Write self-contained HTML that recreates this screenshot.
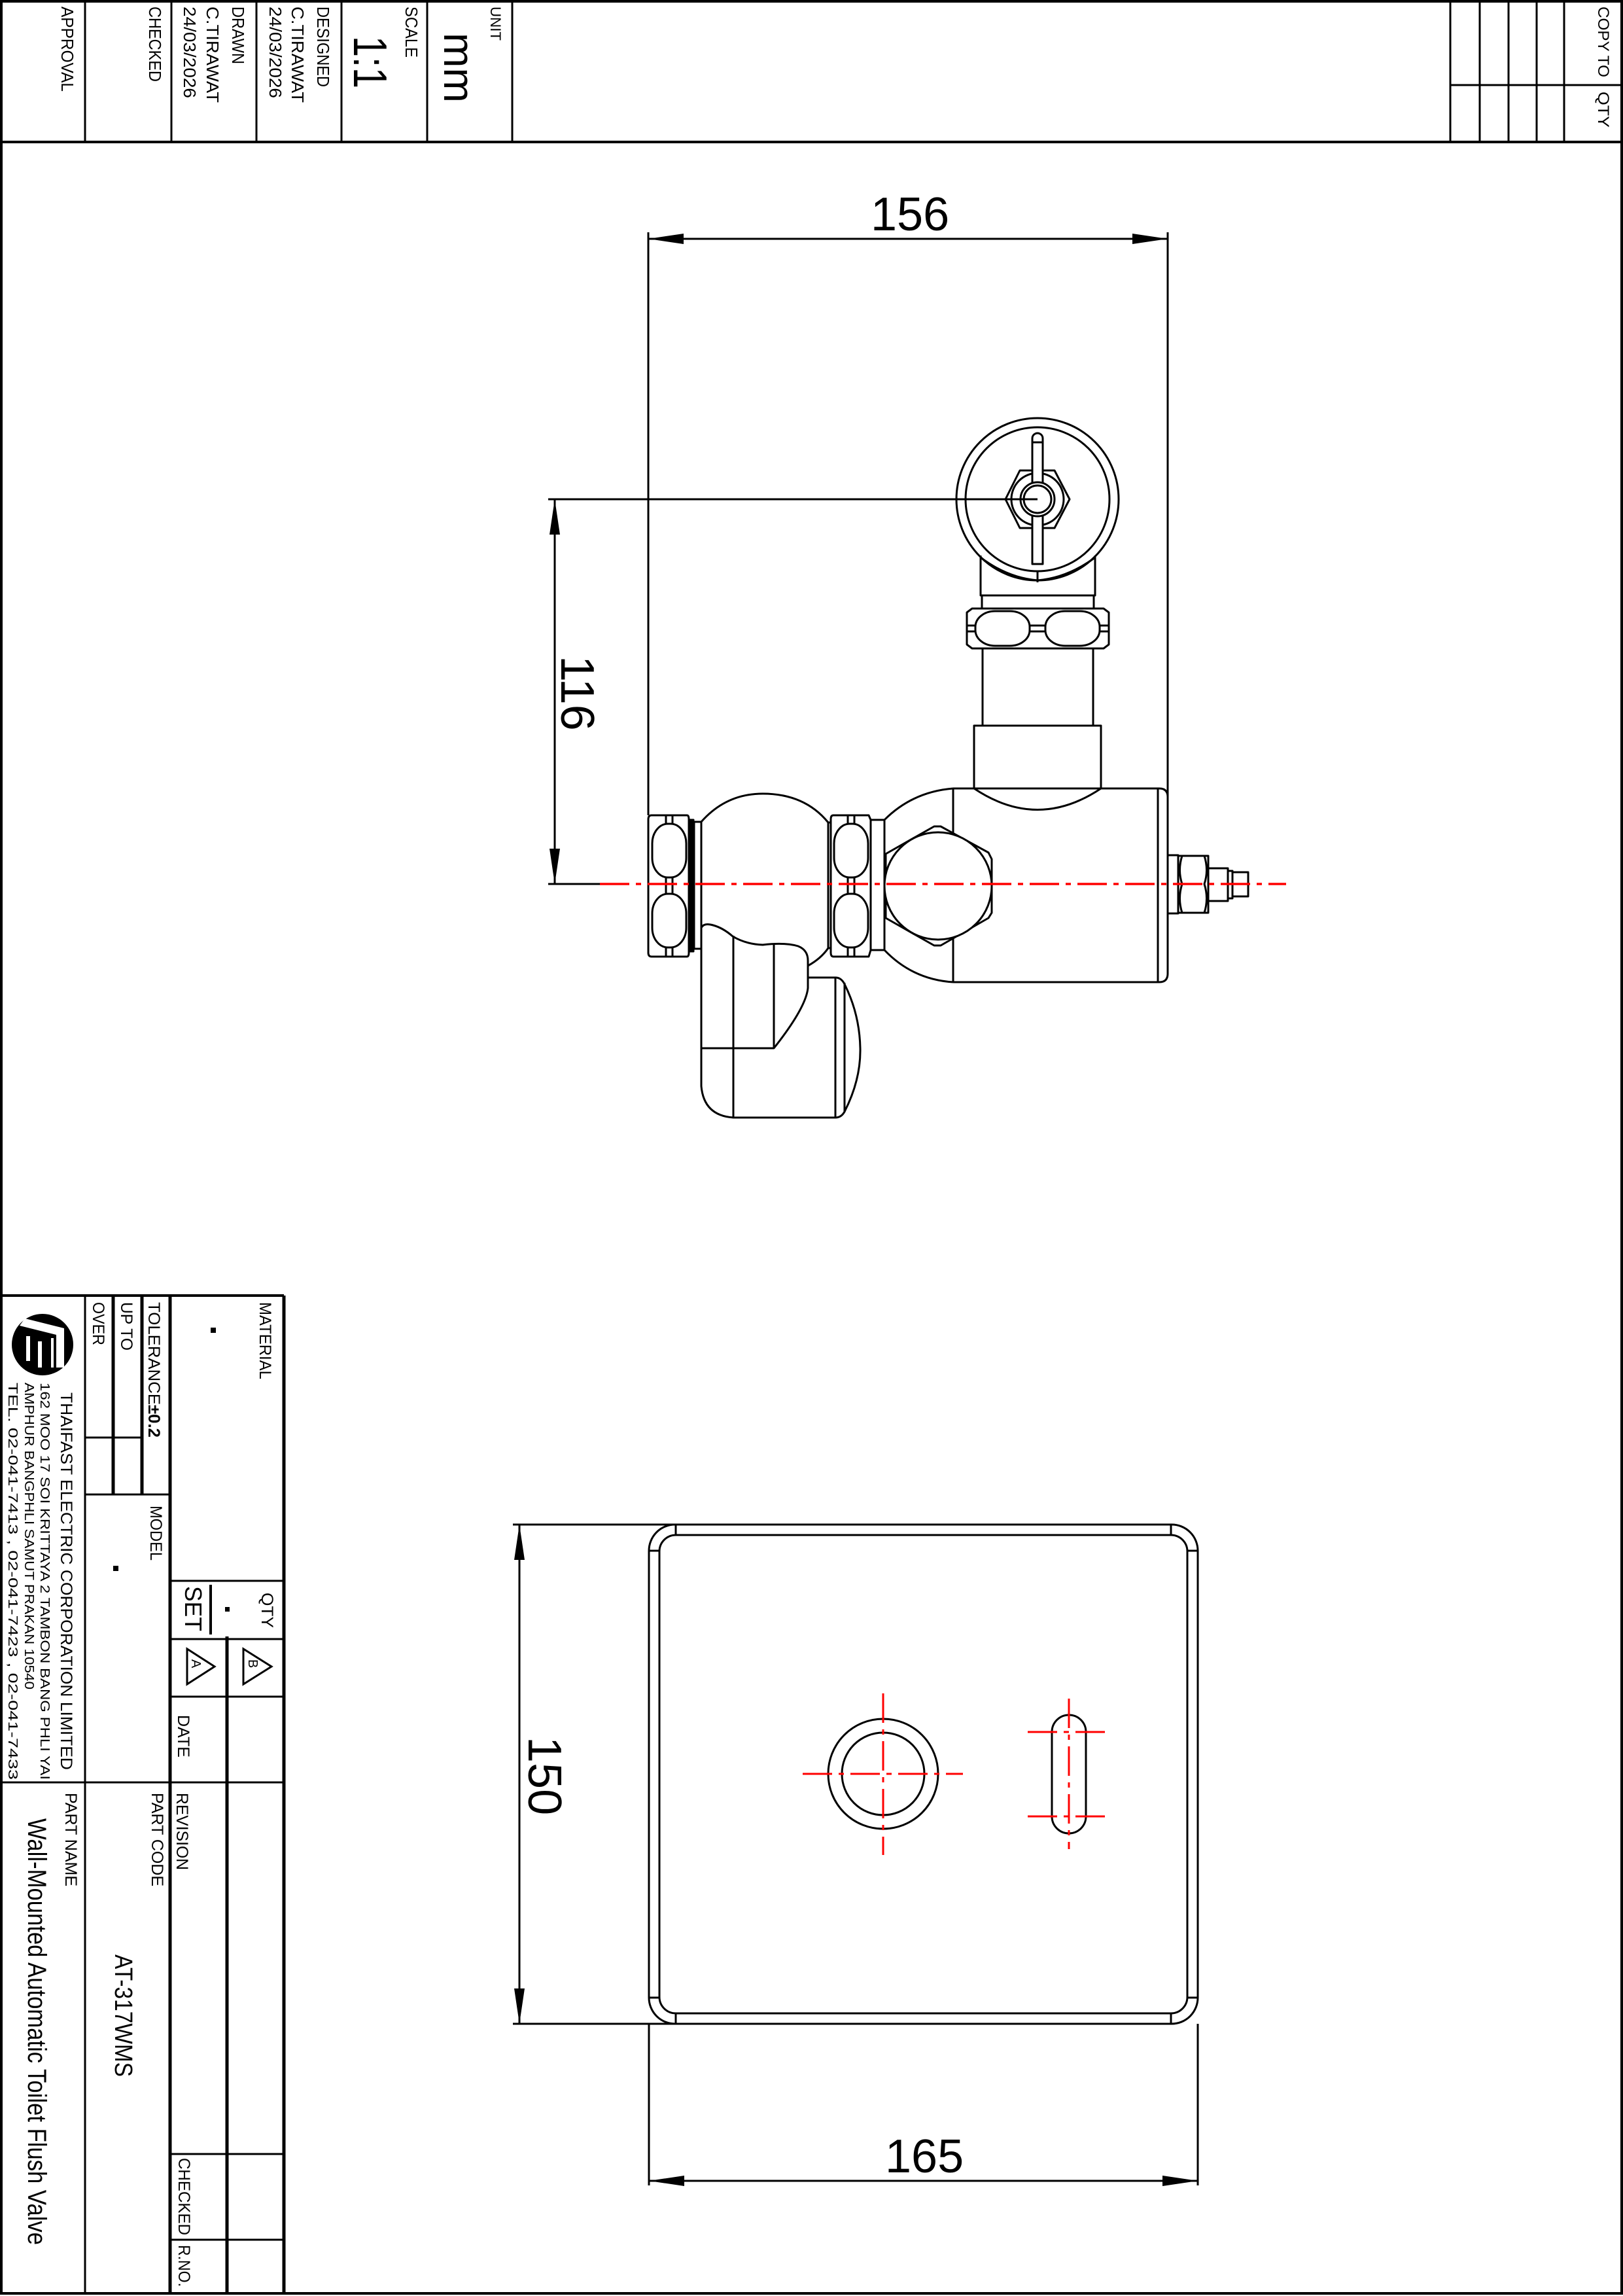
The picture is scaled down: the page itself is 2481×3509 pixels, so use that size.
<!DOCTYPE html>
<html><head><meta charset="utf-8"><style>
html,body{margin:0;padding:0;background:#fff;}
svg{display:block;}
text{font-family:"Liberation Sans",sans-serif;fill:#000;}
</style></head><body>
<svg width="2481" height="3509" viewBox="0 0 2481 3509" xmlns="http://www.w3.org/2000/svg">
<rect x="0" y="0" width="2481" height="3509" fill="#fff"/>
<g fill="none" stroke="#000" stroke-width="3">
<rect x="2" y="2" width="2477" height="3503" stroke-width="4"/>
<line x1="0" y1="217" x2="2481" y2="217" stroke-width="4"/>
<line x1="130" y1="0" x2="130" y2="217"/>
<line x1="262" y1="0" x2="262" y2="217"/>
<line x1="392" y1="0" x2="392" y2="217"/>
<line x1="522" y1="0" x2="522" y2="217"/>
<line x1="653" y1="0" x2="653" y2="217"/>
<line x1="783" y1="0" x2="783" y2="217"/>
<line x1="2217" y1="0" x2="2217" y2="217"/>
<line x1="2262" y1="0" x2="2262" y2="217"/>
<line x1="2306" y1="0" x2="2306" y2="217"/>
<line x1="2349" y1="0" x2="2349" y2="217"/>
<line x1="2391" y1="0" x2="2391" y2="217"/>
<line x1="2217" y1="130" x2="2481" y2="130"/>
<line x1="0" y1="1980" x2="434" y2="1980" stroke-width="4"/>
<line x1="434" y1="1980" x2="434" y2="3505" stroke-width="5"/>
<line x1="130" y1="1980" x2="130" y2="3505"/>
<line x1="173" y1="1980" x2="173" y2="2284" stroke-width="5"/>
<line x1="217" y1="1980" x2="217" y2="2284" stroke-width="5"/>
<line x1="260" y1="1980" x2="260" y2="3505" stroke-width="5"/>
<line x1="347" y1="2501" x2="347" y2="3505" stroke-width="5"/>
<line x1="130" y1="2197" x2="217" y2="2197"/>
<line x1="130" y1="2284" x2="260" y2="2284"/>
<line x1="260" y1="2416" x2="434" y2="2416"/>
<line x1="260" y1="2505" x2="434" y2="2505"/>
<line x1="260" y1="2593" x2="434" y2="2593"/>
<line x1="0" y1="2724" x2="434" y2="2724"/>
<line x1="260" y1="3292" x2="434" y2="3292"/>
<line x1="260" y1="3423" x2="434" y2="3423"/>
<line x1="322" y1="2422" x2="322" y2="2498" stroke-width="4"/>
<polygon points="286,2520 286,2574 328,2547"/>
<polygon points="372,2520 372,2574 415,2547"/>
</g>
<g>
<circle cx="65" cy="2055" r="47" fill="#000"/>
<polygon points="38,2015 98,2030 98,2090 86,2090 86,2040 30,2026" fill="#fff"/>
<polygon points="40,2042 46,2042 46,2080 40,2080" fill="#fff"/>
<polygon points="58,2050 64,2050 64,2090 58,2090" fill="#fff"/>
<polygon points="78,2045 82,2045 82,2090 78,2090" fill="#fff"/>
</g>
<rect x="322" y="2029" width="8" height="8"/>
<rect x="344" y="2456" width="7" height="7"/>
<rect x="173" y="2393" width="8" height="8"/>

<g font-size="26">
<text transform="translate(94,10) rotate(90)" textLength="130" lengthAdjust="spacingAndGlyphs">APPROVAL</text>
<text transform="translate(228,10) rotate(90)" textLength="115" lengthAdjust="spacingAndGlyphs">CHECKED</text>
<text transform="translate(355,10) rotate(90)" textLength="88" lengthAdjust="spacingAndGlyphs">DRAWN</text>
<text transform="translate(316,10) rotate(90)" textLength="147" lengthAdjust="spacingAndGlyphs">C.TIRAWAT</text>
<text transform="translate(281,10) rotate(90)" textLength="140" lengthAdjust="spacingAndGlyphs">24/03/2026</text>
<text transform="translate(485,10) rotate(90)" textLength="123" lengthAdjust="spacingAndGlyphs">DESIGNED</text>
<text transform="translate(446,10) rotate(90)" textLength="147" lengthAdjust="spacingAndGlyphs">C.TIRAWAT</text>
<text transform="translate(412,10) rotate(90)" textLength="140" lengthAdjust="spacingAndGlyphs">24/03/2026</text>
<text transform="translate(620,10) rotate(90)" textLength="78" lengthAdjust="spacingAndGlyphs">SCALE</text>
<text transform="translate(750,10) rotate(90)" font-size="22" textLength="52" lengthAdjust="spacingAndGlyphs">UNIT</text>
<text transform="translate(541,55) rotate(90)" font-size="72" textLength="80" lengthAdjust="spacingAndGlyphs">1:1</text>
<text transform="translate(679,50) rotate(90)" font-size="66" textLength="107" lengthAdjust="spacingAndGlyphs">mm</text>
<text transform="translate(2443,10) rotate(90)" font-size="24" textLength="108" lengthAdjust="spacingAndGlyphs">COPY TO</text>
<text transform="translate(2443,140) rotate(90)" font-size="24" textLength="55" lengthAdjust="spacingAndGlyphs">QTY</text>
</g>

<g font-size="25">
<text transform="translate(397,1990) rotate(90)" textLength="118" lengthAdjust="spacingAndGlyphs">MATERIAL</text>
<text transform="translate(400,2434) rotate(90)" textLength="54" lengthAdjust="spacingAndGlyphs">QTY</text>
<text transform="translate(283,2424) rotate(90)" font-size="36" textLength="69" lengthAdjust="spacingAndGlyphs">SET</text>
<text transform="translate(293,2536) rotate(90)" font-size="20">A</text>
<text transform="translate(380,2536) rotate(90)" font-size="20">B</text>
<text transform="translate(272,2621) rotate(90)" textLength="65" lengthAdjust="spacingAndGlyphs">DATE</text>
<text transform="translate(270,2740) rotate(90)" textLength="118" lengthAdjust="spacingAndGlyphs">REVISION</text>
<text transform="translate(273,3298) rotate(90)" textLength="118" lengthAdjust="spacingAndGlyphs">CHECKED</text>
<text transform="translate(273,3431) rotate(90)" textLength="64" lengthAdjust="spacingAndGlyphs">R.NO.</text>
<text transform="translate(227,1990) rotate(90)" textLength="207" lengthAdjust="spacingAndGlyphs">TOLERANCE<tspan font-weight="bold">±0.2</tspan></text>
<text transform="translate(185,1990) rotate(90)" textLength="74" lengthAdjust="spacingAndGlyphs">UP TO</text>
<text transform="translate(142,1990) rotate(90)" textLength="66" lengthAdjust="spacingAndGlyphs">OVER</text>
<text transform="translate(230,2301) rotate(90)" textLength="84" lengthAdjust="spacingAndGlyphs">MODEL</text>
<text transform="translate(93,2128) rotate(90)" textLength="577" lengthAdjust="spacingAndGlyphs">THAIFAST ELECTRIC CORPORATION LIMITED</text>
<text transform="translate(62,2113) rotate(90)" font-size="20" textLength="607" lengthAdjust="spacingAndGlyphs">162  MOO  17  SOI  KRITTAYA  2  TAMBON  BANG  PHLI  YAI</text>
<text transform="translate(38,2113) rotate(90)" font-size="20" textLength="469" lengthAdjust="spacingAndGlyphs">AMPHUR  BANGPHLI  SAMUT  PRAKAN  10540</text>
<text transform="translate(13,2113) rotate(90)" font-size="20" textLength="607" lengthAdjust="spacingAndGlyphs">TEL.  02-041-7413  ,  02-041-7423  ,  02-041-7433</text>
<text transform="translate(100,2740) rotate(90)" textLength="143" lengthAdjust="spacingAndGlyphs">PART NAME</text>
<text transform="translate(232,2740) rotate(90)" textLength="143" lengthAdjust="spacingAndGlyphs">PART CODE</text>
<text transform="translate(176,2987) rotate(90)" font-size="38" textLength="187" lengthAdjust="spacingAndGlyphs">AT-317WMS</text>
<text transform="translate(43,2779) rotate(90)" font-size="40" textLength="652" lengthAdjust="spacingAndGlyphs">Wall-Mounted Automatic Toilet Flush Valve</text>
</g>

<g fill="none" stroke="#000" stroke-width="3" stroke-linejoin="round">
<line x1="991" y1="355" x2="991" y2="1246"/>
<line x1="1785" y1="355" x2="1785" y2="1220"/>
<line x1="991" y1="365" x2="1785" y2="365"/>
<line x1="848" y1="763" x2="848" y2="1351"/>
<line x1="838" y1="763" x2="1586" y2="763"/>
<line x1="838" y1="1351" x2="940" y2="1351"/>

<circle cx="1586" cy="763" r="124"/>
<circle cx="1586" cy="763" r="110"/>
<path d="M1499,849 L1499,910 L1674,910 L1674,849"/>
<path d="M1499,852 Q1540,883 1586,887 Q1632,883 1674,852"/>
<line x1="1586" y1="872" x2="1586" y2="890"/>
<line x1="1501" y1="910" x2="1501" y2="930"/>
<line x1="1672" y1="910" x2="1672" y2="930"/>
<polygon points="1537,763 1559,719 1612,719 1635,763 1612,807 1559,807"/>
<circle cx="1586" cy="763" r="40"/>
<path d="M1578,862 L1578,670 A8,8 0 0 1 1594,670 L1594,862 Z" fill="#fff"/>
<line x1="1578" y1="676" x2="1594" y2="676"/>
<circle cx="1586" cy="763" r="26" fill="#fff"/>
<circle cx="1586" cy="763" r="21"/>
<line x1="1490" y1="763" x2="1586" y2="763"/>

<polygon points="1486,930 1687,930 1695,936 1695,985 1687,991 1486,991 1478,985 1478,936"/>
<rect x="1491" y="934" width="83" height="53" rx="30" ry="24"/>
<rect x="1598" y="934" width="83" height="53" rx="30" ry="24"/>
<line x1="1574" y1="956" x2="1598" y2="956"/><line x1="1574" y1="965" x2="1598" y2="965"/>
<line x1="1478" y1="956" x2="1491" y2="956"/><line x1="1478" y1="965" x2="1491" y2="965"/>
<line x1="1681" y1="956" x2="1695" y2="956"/><line x1="1681" y1="965" x2="1695" y2="965"/>
<line x1="1502" y1="991" x2="1502" y2="1109"/>
<line x1="1671" y1="991" x2="1671" y2="1109"/>
<path d="M1489,1205 L1489,1109 L1683,1109 L1683,1205"/>
<path d="M1489,1205 Q1586,1270 1683,1205"/>

<path d="M1457,1205 L1772,1205 Q1785,1205 1785,1218 L1785,1488 Q1785,1501 1772,1501 L1457,1501"/>
<line x1="1770" y1="1205" x2="1770" y2="1501"/>
<line x1="1457" y1="1205" x2="1457" y2="1501"/>
<path d="M1352,1253 Q1395,1210 1457,1205"/>
<path d="M1352,1452 Q1395,1497 1457,1501"/>
<rect x="1785" y="1307" width="16" height="89"/>
<rect x="1801" y="1308" width="46" height="87"/>
<path d="M1807,1308 Q1800,1330 1807,1351 Q1800,1373 1807,1395"/>
<path d="M1841,1308 Q1848,1330 1841,1351 Q1848,1373 1841,1395"/>
<rect x="1847" y="1327" width="30" height="50"/>
<rect x="1877" y="1331" width="7" height="42"/>
<rect x="1884" y="1333" width="24" height="37"/>
<line x1="1884" y1="1351" x2="1908" y2="1351"/>

<polygon points="1428,1263 1438,1263 1511,1303 1516,1313 1516,1395 1511,1403 1438,1445 1428,1445 1354,1403 1354,1305"/>
<circle cx="1434" cy="1354" r="82" fill="#fff"/>

<path d="M1274,1246 L1328,1246 L1331,1253 L1352,1253 L1352,1452 L1331,1452 L1328,1462 L1274,1462 Q1270,1462 1270,1456 L1270,1252 Q1270,1246 1274,1246 Z"/>
<line x1="1331" y1="1253" x2="1331" y2="1452"/>
<line x1="1296" y1="1246" x2="1296" y2="1259"/><line x1="1306" y1="1246" x2="1306" y2="1259"/>
<line x1="1296" y1="1341" x2="1296" y2="1366"/><line x1="1306" y1="1341" x2="1306" y2="1366"/>
<line x1="1296" y1="1448" x2="1296" y2="1462"/><line x1="1306" y1="1448" x2="1306" y2="1462"/>
<rect x="1275" y="1259" width="52" height="82" rx="24" ry="30"/>
<rect x="1275" y="1366" width="52" height="82" rx="24" ry="30"/>
<rect x="1266" y="1257" width="4" height="192"/>

<path d="M1072,1256 Q1110,1213 1166,1213 Q1230,1213 1266,1257"/>
<path d="M1266,1449 Q1255,1465 1235,1476"/>

<path d="M996,1246 L1050,1246 Q1053,1246 1053,1252 L1053,1456 Q1053,1462 1050,1462 L996,1462 Q991,1462 991,1456 L991,1252 Q991,1246 996,1246 Z"/>
<line x1="1018" y1="1246" x2="1018" y2="1259"/><line x1="1028" y1="1246" x2="1028" y2="1259"/>
<line x1="1018" y1="1341" x2="1018" y2="1366"/><line x1="1028" y1="1341" x2="1028" y2="1366"/>
<line x1="1018" y1="1448" x2="1018" y2="1462"/><line x1="1028" y1="1448" x2="1028" y2="1462"/>
<rect x="997" y="1259" width="52" height="82" rx="24" ry="30"/>
<rect x="997" y="1366" width="52" height="82" rx="24" ry="30"/>
<rect x="1054" y="1253" width="6" height="201" fill="#000"/>
<rect x="1061" y="1256" width="11" height="194"/>

<path d="M1072,1602 L1072,1418 Q1076,1410 1090,1414 Q1105,1418 1120,1431 Q1140,1443 1166,1444 Q1200,1440 1220,1446 Q1235,1452 1235,1468 L1235,1510 Q1232,1540 1183,1602 Z" fill="#fff"/>
<line x1="1121" y1="1430" x2="1121" y2="1708"/>
<line x1="1183" y1="1442" x2="1183" y2="1602"/>
<path d="M1072,1602 L1072,1660 Q1076,1705 1121,1708 L1277,1708 Q1286,1708 1291,1699 Q1316,1650 1315,1602 Q1314,1550 1291,1504 Q1286,1494 1277,1494 L1235,1494"/>
<line x1="1277" y1="1494" x2="1277" y2="1708"/>
<line x1="1291" y1="1502" x2="1291" y2="1700"/>
</g>
<g fill="#000">
<polygon points="991,365 1045,357 1045,373"/>
<polygon points="1785,365 1731,357 1731,373"/>
<polygon points="848,763 840,817 856,817"/>
<polygon points="848,1351 840,1297 856,1297"/>
</g>
<line x1="917" y1="1351" x2="1966" y2="1351" stroke="#ff0000" stroke-width="3.5" stroke-dasharray="45 10 8 10"/>
<text x="1331" y="352" font-size="72">156</text>
<text transform="translate(858,1002) rotate(90)" font-size="72">116</text>

<g fill="none" stroke="#000" stroke-width="3">
<rect x="992" y="2330" width="839" height="763" rx="40" ry="40"/>
<rect x="1008" y="2346" width="807" height="731" rx="25" ry="25"/>
<line x1="1033" y1="2330" x2="1033" y2="2346"/><line x1="1790" y1="2330" x2="1790" y2="2346"/>
<line x1="1033" y1="3077" x2="1033" y2="3093"/><line x1="1790" y1="3077" x2="1790" y2="3093"/>
<line x1="992" y1="2370" x2="1008" y2="2370"/><line x1="1815" y1="2370" x2="1831" y2="2370"/>
<line x1="992" y1="3053" x2="1008" y2="3053"/><line x1="1815" y1="3053" x2="1831" y2="3053"/>
<circle cx="1350" cy="2711" r="84"/>
<circle cx="1350" cy="2711" r="63"/>
<rect x="1608" y="2621" width="52" height="181" rx="26" ry="26"/>
<line x1="794" y1="2330" x2="794" y2="3093"/>
<line x1="784" y1="2330" x2="1033" y2="2330"/>
<line x1="784" y1="3093" x2="1033" y2="3093"/>
<line x1="992" y1="3093" x2="992" y2="3340"/>
<line x1="1831" y1="3093" x2="1831" y2="3340"/>
<line x1="992" y1="3333" x2="1831" y2="3333"/>
</g>
<g fill="#000">
<polygon points="794,2330 786,2384 802,2384"/>
<polygon points="794,3093 786,3039 802,3039"/>
<polygon points="992,3333 1046,3325 1046,3341"/>
<polygon points="1831,3333 1777,3325 1777,3341"/>
</g>
<g stroke="#ff0000" stroke-width="3" stroke-dasharray="45 10 8 10">
<line x1="1227" y1="2711" x2="1472" y2="2711"/>
<line x1="1350" y1="2588" x2="1350" y2="2835"/>
<line x1="1634" y1="2596" x2="1634" y2="2826"/>
<line x1="1571" y1="2647" x2="1699" y2="2647"/>
<line x1="1571" y1="2776" x2="1699" y2="2776"/>
</g>
<text transform="translate(808,2654) rotate(90)" font-size="72">150</text>
<text x="1353" y="3320" font-size="72">165</text>
</svg>
</body></html>
